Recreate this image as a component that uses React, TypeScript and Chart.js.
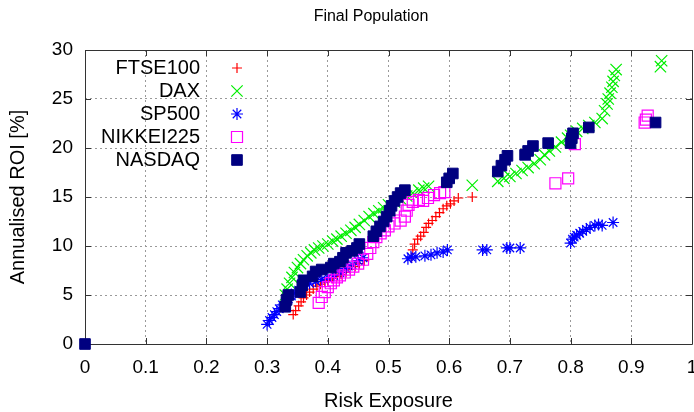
import React, { useEffect, useRef } from 'react';
import { Chart, registerables } from 'chart.js';
import { drawPoint } from 'chart.js/helpers';

Chart.register(...registerables);

const FONT = "'Liberation Sans', Arial, Helvetica, sans-serif";

// [risk exposure, annualised ROI %]
const ftse100: [number, number][] = [
  [0.343, 3.0], [0.347, 3.4], [0.352, 3.9], [0.356, 4.3], [0.36, 4.7], [0.365, 5.0],
  [0.37, 5.3], [0.376, 5.6], [0.382, 5.9], [0.388, 6.1], [0.395, 6.3], [0.4, 6.5],
  [0.408, 6.7], [0.415, 6.9], [0.422, 7.1], [0.43, 7.3], [0.437, 7.6], [0.445, 7.9],
  [0.452, 8.2], [0.46, 8.5],
  [0.538, 8.8], [0.54, 9.6], [0.543, 10.2], [0.548, 10.7], [0.553, 11.0], [0.558, 11.4],
  [0.562, 11.9], [0.566, 12.3], [0.572, 12.6], [0.578, 13.0], [0.584, 13.4], [0.59, 13.8],
  [0.596, 14.1], [0.602, 14.3], [0.608, 14.6], [0.615, 14.9], [0.638, 15.0],
];

const dax: [number, number][] = [
  [0.33, 5.0], [0.333, 5.6], [0.337, 6.2], [0.341, 6.8], [0.345, 7.3], [0.35, 7.8],
  [0.355, 8.2], [0.36, 8.6], [0.366, 9.0], [0.372, 9.3], [0.378, 9.6], [0.385, 9.8],
  [0.392, 10.0], [0.4, 10.2], [0.408, 10.5], [0.415, 10.7], [0.422, 11.0], [0.43, 11.3],
  [0.438, 11.6], [0.445, 11.9], [0.452, 12.2], [0.46, 12.6], [0.468, 13.0], [0.476, 13.3],
  [0.484, 13.6], [0.492, 13.9], [0.5, 14.2], [0.51, 14.5], [0.52, 14.8], [0.53, 15.1],
  [0.54, 15.4], [0.55, 15.7], [0.558, 15.9], [0.566, 16.1], [0.638, 16.2],
  [0.68, 16.6], [0.69, 16.9], [0.7, 17.1], [0.71, 17.4], [0.72, 17.7], [0.73, 18.0],
  [0.74, 18.4], [0.75, 18.8], [0.757, 19.3], [0.765, 19.7], [0.775, 20.1], [0.785, 20.6],
  [0.795, 21.0], [0.8, 21.3], [0.81, 21.7], [0.82, 22.0], [0.83, 22.3], [0.84, 22.6],
  [0.852, 23.0], [0.856, 23.8], [0.86, 24.5], [0.862, 25.0], [0.865, 25.6], [0.868, 26.2],
  [0.87, 26.8], [0.872, 27.4], [0.875, 28.0], [0.948, 28.3], [0.95, 28.9],
];

const sp500: [number, number][] = [
  [0.3, 2.0], [0.304, 2.4], [0.308, 2.7], [0.312, 3.0], [0.316, 3.3], [0.32, 3.6],
  [0.325, 4.0], [0.33, 4.3], [0.335, 4.6], [0.34, 4.9], [0.346, 5.2], [0.352, 5.5],
  [0.36, 5.9], [0.37, 6.2], [0.38, 6.4], [0.39, 6.6], [0.4, 6.8], [0.41, 7.0],
  [0.42, 7.3], [0.43, 7.7], [0.44, 8.1], [0.45, 8.5], [0.458, 8.8],
  [0.532, 8.7], [0.537, 8.9], [0.545, 8.9], [0.56, 9.0], [0.57, 9.1], [0.58, 9.3],
  [0.59, 9.4], [0.597, 9.6], [0.655, 9.6], [0.662, 9.6], [0.695, 9.8], [0.7, 9.8],
  [0.717, 9.8],
  [0.8, 10.3], [0.803, 10.7], [0.806, 10.9], [0.81, 11.1], [0.815, 11.3], [0.82, 11.5],
  [0.826, 11.7], [0.832, 11.9], [0.84, 12.1], [0.846, 12.2], [0.852, 12.1], [0.87, 12.4],
];

const nikkei225: [number, number][] = [
  [0.385, 4.2], [0.39, 4.8], [0.395, 5.3], [0.4, 5.8], [0.405, 6.2], [0.41, 6.5],
  [0.415, 6.8], [0.42, 7.0], [0.428, 7.3], [0.435, 7.6], [0.442, 7.9], [0.45, 8.2],
  [0.458, 8.6], [0.465, 9.2], [0.47, 9.8], [0.475, 10.4], [0.48, 10.9], [0.487, 11.3],
  [0.494, 11.6], [0.5, 12.0], [0.51, 12.3], [0.52, 12.6], [0.527, 13.0], [0.53, 13.6],
  [0.533, 14.2], [0.54, 14.5], [0.55, 14.7], [0.557, 14.6], [0.565, 14.9], [0.575, 15.2],
  [0.585, 15.4], [0.592, 15.5],
  [0.775, 16.4], [0.796, 16.9], [0.807, 20.4], [0.922, 22.6], [0.924, 22.9], [0.927, 23.3],
];

const nasdaq: [number, number][] = [
  [0, 0],
  [0.33, 3.8], [0.332, 4.5], [0.335, 5.0], [0.355, 5.3], [0.358, 6.0], [0.36, 6.5],
  [0.375, 6.9], [0.38, 7.4], [0.39, 7.6], [0.405, 7.8], [0.41, 8.2], [0.42, 8.4],
  [0.425, 8.8], [0.43, 9.3], [0.44, 9.5], [0.448, 9.8], [0.452, 10.2], [0.475, 11.0],
  [0.48, 11.5], [0.486, 12.0], [0.492, 12.5], [0.497, 13.0], [0.502, 13.6], [0.505, 14.1],
  [0.51, 14.6], [0.515, 15.0], [0.52, 15.4], [0.527, 15.7],
  [0.596, 16.5], [0.6, 16.9], [0.606, 17.4],
  [0.68, 17.6], [0.686, 18.2], [0.692, 18.8], [0.696, 19.2], [0.725, 19.3], [0.73, 19.7],
  [0.738, 20.2], [0.763, 20.5], [0.8, 20.5], [0.802, 21.0], [0.804, 21.5], [0.83, 22.1],
  [0.94, 22.6],
];

const xTickValues = [0, 0.1, 0.2, 0.3, 0.4, 0.5, 0.6, 0.7, 0.8, 0.9, 1];
const yTickValues = [0, 5, 10, 15, 20, 25, 30];

const chartTitle = 'Final Population';
const xTitle = 'Risk Exposure';
const yTitle = 'Annualised ROI [%]';

const toPoints = (arr: [number, number][]) => arr.map(([x, y]) => ({ x, y }));

// Border box with inward tick marks on all four sides
const framePlugin = {
  id: 'frame',
  beforeDatasetsDraw(chart: any) {
    const { ctx, chartArea, scales } = chart;
    const { left, right, top, bottom } = chartArea;
    const tick = 6;
    ctx.save();
    ctx.strokeStyle = '#333';
    ctx.lineWidth = 1;
    ctx.beginPath();
    ctx.rect(Math.round(left) + 0.5, Math.round(top) + 0.5, Math.round(right - left), Math.round(bottom - top));
    for (const v of xTickValues) {
      const px = Math.round(scales.x.getPixelForValue(v)) + 0.5;
      ctx.moveTo(px, bottom);
      ctx.lineTo(px, bottom - tick);
      ctx.moveTo(px, top);
      ctx.lineTo(px, top + tick);
    }
    for (const v of yTickValues) {
      const py = Math.round(scales.y.getPixelForValue(v)) + 0.5;
      ctx.moveTo(left, py);
      ctx.lineTo(left + tick, py);
      ctx.moveTo(right, py);
      ctx.lineTo(right - tick, py);
    }
    ctx.stroke();
    ctx.restore();
  },
};

// Title above the plot and key in the upper-left corner
const annotationPlugin = {
  id: 'annotations',
  afterDraw(chart: any) {
    const { ctx } = chart;
    ctx.save();
    ctx.fillStyle = '#000';
    ctx.font = `16px ${FONT}`;
    ctx.textAlign = 'center';
    ctx.textBaseline = 'middle';
    ctx.fillText(chartTitle, 371, 17);

    ctx.font = `20px ${FONT}`;
    ctx.textAlign = 'right';
    const keyX = 200;
    const markX = 237;
    const keyTop = 68;
    const keyStep = 23;
    chart.data.datasets.forEach((ds: any, i: number) => {
      const y = keyTop + i * keyStep;
      ctx.fillStyle = '#000';
      ctx.fillText(ds.label, keyX, y);
      ctx.strokeStyle = ds.pointBorderColor;
      ctx.fillStyle = ds.pointBackgroundColor;
      ctx.lineWidth = ds.pointBorderWidth;
      drawPoint(ctx, { pointStyle: ds.pointStyle, radius: ds.pointRadius, rotation: 0, borderWidth: ds.pointBorderWidth } as any, markX, y);
    });
    ctx.restore();
  },
};

export default function App() {
  const canvasRef = useRef<HTMLCanvasElement | null>(null);

  useEffect(() => {
    if (!canvasRef.current) return;
    const chart = new Chart(canvasRef.current, {
      type: 'scatter',
      data: {
        datasets: [
          {
            label: 'FTSE100',
            data: toPoints(ftse100),
            pointStyle: 'cross',
            pointRadius: 5,
            pointHoverRadius: 5,
            pointBorderWidth: 1.2,
            pointBorderColor: '#ff0000',
            pointBackgroundColor: '#ff0000',
            order: 4,
            clip: 10,
          },
          {
            label: 'DAX',
            data: toPoints(dax),
            pointStyle: 'crossRot',
            pointRadius: 8,
            pointHoverRadius: 8,
            pointBorderWidth: 1.2,
            pointBorderColor: '#00ee00',
            pointBackgroundColor: '#00ee00',
            order: 3,
            clip: 10,
          },
          {
            label: 'SP500',
            data: toPoints(sp500),
            pointStyle: 'star',
            pointRadius: 6,
            pointHoverRadius: 6,
            pointBorderWidth: 1.2,
            pointBorderColor: '#0000ff',
            pointBackgroundColor: '#0000ff',
            order: 2,
            clip: 10,
          },
          {
            label: 'NIKKEI225',
            data: toPoints(nikkei225),
            pointStyle: 'rect',
            pointRadius: 7.8,
            pointHoverRadius: 7.8,
            pointBorderWidth: 1.2,
            pointBorderColor: '#ff00ff',
            pointBackgroundColor: 'rgba(0,0,0,0)',
            order: 1,
            clip: 10,
          },
          {
            label: 'NASDAQ',
            data: toPoints(nasdaq),
            pointStyle: 'rect',
            pointRadius: 7.5,
            pointHoverRadius: 7.5,
            pointBorderWidth: 1,
            pointBorderColor: '#000080',
            pointBackgroundColor: '#000080',
            order: 0,
            clip: 10,
          },
        ] as any,
      },
      options: {
        animation: false,
        responsive: false,
        maintainAspectRatio: false,
        events: [],
        layout: { autoPadding: false, padding: { top: 50, right: 2, left: 0, bottom: 0 } },
        plugins: {
          legend: { display: false },
          title: { display: false },
          tooltip: { enabled: false },
        },
        scales: {
          x: {
            type: 'linear',
            min: 0,
            max: 1,
            afterBuildTicks: (s: any) => {
              s.ticks = xTickValues.map((v) => ({ value: v }));
            },
            afterFit: (s: any) => {
              s.height = 68;
              s.paddingLeft = 0;
              s.paddingRight = 0;
            },
            ticks: {
              autoSkip: false,
              maxRotation: 0,
              padding: 12,
              color: '#000',
              font: { family: FONT, size: 19 },
              callback: (v: any) => String(v),
            },
            grid: {
              drawTicks: false,
              lineWidth: 1,
              color: (c: any) =>
                c.tick && (c.tick.value === 0 || c.tick.value === 1) ? 'rgba(0,0,0,0)' : '#9a9a9a',
            },
            border: { display: false, dash: [2, 3] },
            title: {
              display: true,
              text: xTitle,
              color: '#000',
              font: { family: FONT, size: 20 },
              padding: { top: 0, bottom: -1 },
            },
          },
          y: {
            type: 'linear',
            min: 0,
            max: 30,
            afterBuildTicks: (s: any) => {
              s.ticks = yTickValues.map((v) => ({ value: v }));
            },
            afterFit: (s: any) => {
              s.width = 85;
              s.paddingTop = 0;
              s.paddingBottom = 0;
            },
            ticks: {
              autoSkip: false,
              padding: 12,
              color: '#000',
              font: { family: FONT, size: 19 },
              callback: (v: any) => String(v),
            },
            grid: {
              drawTicks: false,
              lineWidth: 1,
              color: (c: any) =>
                c.tick && (c.tick.value === 0 || c.tick.value === 30) ? 'rgba(0,0,0,0)' : '#9a9a9a',
            },
            border: { display: false, dash: [2, 3] },
            title: {
              display: true,
              text: yTitle,
              color: '#000',
              font: { family: FONT, size: 20 },
              padding: { top: 6, bottom: 0 },
            },
          },
        },
      },
      plugins: [framePlugin, annotationPlugin],
    });
    return () => chart.destroy();
  }, []);

  return (
    <div style={{ position: 'fixed', left: 0, top: 0, width: 694, height: 412, overflow: 'hidden', background: '#fff' }}>
      <canvas ref={canvasRef} width={694} height={412} style={{ display: 'block' }} />
    </div>
  );
}
